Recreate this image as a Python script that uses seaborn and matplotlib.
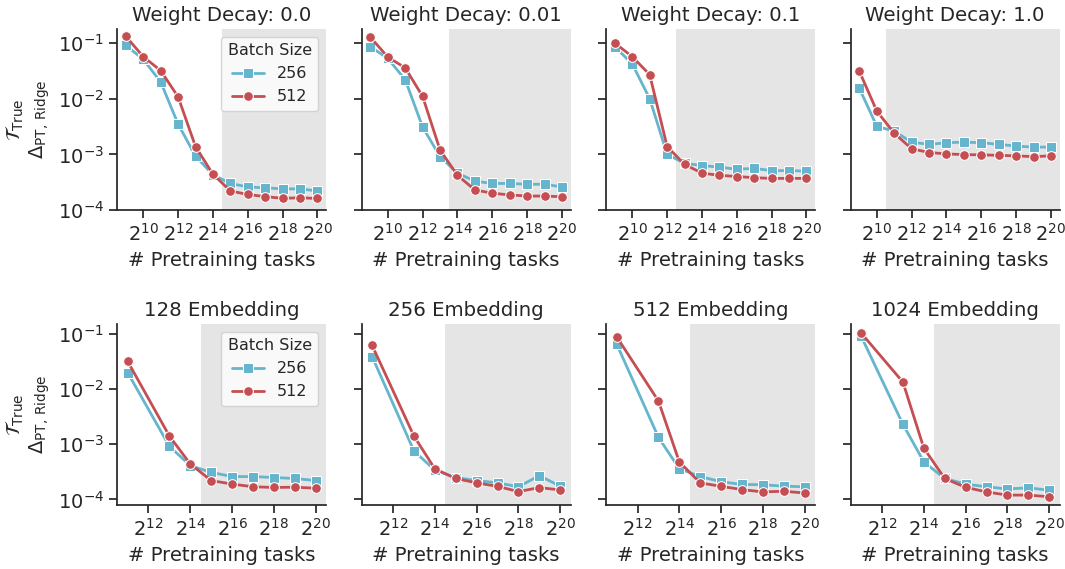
import numpy as np
import pandas as pd
import seaborn as sns
import matplotlib
matplotlib.use("Agg")
import matplotlib.pyplot as plt
from matplotlib.ticker import FixedLocator, NullLocator, LogFormatterSciNotation

# ---------------- data ----------------
tasks_top = [512, 1024, 2048, 4096, 8192, 16384, 32768, 65536, 131072, 262144, 524288, 1048576]
tasks_bot = [2048, 8192, 16384, 32768, 65536, 131072, 262144, 524288, 1048576]
batch_sizes = [256, 512]

wd_titles = ["Weight Decay: 0.0", "Weight Decay: 0.01", "Weight Decay: 0.1", "Weight Decay: 1.0"]
wd_shade_log2 = [14.5, 13.5, 12.5, 10.5]

wd00_256 = [0.091, 0.051, 0.020, 0.0035, 0.00093, 0.00043, 0.00030, 0.00026, 0.00025, 0.00024, 0.00024, 0.00022]
wd00_512 = [0.132, 0.057, 0.032, 0.0108, 0.00138, 0.00044, 0.00022, 0.00019, 0.000174, 0.000162, 0.000166, 0.000161]
wd001_256 = [0.086, 0.053, 0.022, 0.0031, 0.00091, 0.00046, 0.00033, 0.00030, 0.00030, 0.00029, 0.00029, 0.00026]
wd001_512 = [0.128, 0.056, 0.036, 0.011, 0.0012, 0.00042, 0.00023, 0.00020, 0.000187, 0.000178, 0.000178, 0.000173]
wd01_256 = [0.086, 0.042, 0.010, 0.0010, 0.00069, 0.00063, 0.00059, 0.00054, 0.00056, 0.00051, 0.00051, 0.00050]
wd01_512 = [0.100, 0.057, 0.027, 0.00138, 0.00066, 0.00046, 0.00042, 0.00040, 0.00038, 0.00037, 0.00037, 0.00037]
wd10_256 = [0.0153, 0.0032, 0.0026, 0.00166, 0.00151, 0.00162, 0.00166, 0.00162, 0.00151, 0.00141, 0.00135, 0.00135]
wd10_512 = [0.031, 0.0060, 0.0024, 0.00126, 0.00108, 0.00102, 0.00099, 0.00098, 0.00096, 0.00094, 0.00091, 0.00094]

emb_titles = ["128 Embedding", "256 Embedding", "512 Embedding", "1024 Embedding"]
emb_shade_log2 = [14.5, 14.5, 14.5, 14.5]

emb128_256 = [0.020, 0.00092, 0.00041, 0.00031, 0.00026, 0.00026, 0.00025, 0.00024, 0.00022]
emb128_512 = [0.032, 0.00141, 0.00044, 0.00022, 0.00019, 0.00017, 0.000165, 0.000167, 0.000160]
emb256_256 = [0.039, 0.00076, 0.00034, 0.00025, 0.00022, 0.00020, 0.00017, 0.00027, 0.000174]
emb256_512 = [0.062, 0.00141, 0.00036, 0.00024, 0.00020, 0.000173, 0.000139, 0.000164, 0.000149]
emb512_256 = [0.066, 0.00134, 0.00036, 0.00026, 0.00021, 0.000187, 0.000185, 0.000174, 0.00017]
emb512_512 = [0.089, 0.0061, 0.00048, 0.00020, 0.000173, 0.000151, 0.000137, 0.000141, 0.000131]
emb1024_256 = [0.091, 0.0023, 0.00048, 0.00024, 0.00019, 0.00017, 0.000155, 0.000163, 0.000147]
emb1024_512 = [0.104, 0.0134, 0.00085, 0.00024, 0.000166, 0.000137, 0.000120, 0.000120, 0.000112]

top_series = [(wd00_256, wd00_512), (wd001_256, wd001_512), (wd01_256, wd01_512), (wd10_256, wd10_512)]
bot_series = [(emb128_256, emb128_512), (emb256_256, emb256_512), (emb512_256, emb512_512), (emb1024_256, emb1024_512)]

x_ticks_top = [10, 12, 14, 16, 18, 20]
x_ticks_bot = [12, 14, 16, 18, 20]
y_ticks = [1e-4, 1e-3, 1e-2, 1e-1]

# ---------------- style ----------------
sns.set_theme(style="ticks")
plt.rcParams["font.family"] = ["DejaVu Sans"]
plt.rcParams["axes.linewidth"] = 1.25
plt.rcParams["xtick.major.width"] = 1.25
plt.rcParams["ytick.major.width"] = 1.25
plt.rcParams["xtick.major.size"] = 6
plt.rcParams["ytick.major.size"] = 6

palette = {256: "#64B5CD", 512: "#C44E52"}
markers = {256: "s", 512: "o"}

fig, axes = plt.subplots(2, 4, figsize=(10.65, 5.69), dpi=100)
fig.subplots_adjust(left=0.110, right=0.995, top=0.949, bottom=0.1125, wspace=0.17, hspace=0.63)

ylabel = "$\\mathcal{T}_{\\mathrm{True}}$\n$\\Delta_{\\mathrm{PT,\\,Ridge}}$"


def draw(ax, tasks, pair, title, shade, xticks, ylim, xlo, show_legend, first_col):
    df = pd.DataFrame({
        "tasks": tasks * 2,
        "val": list(pair[0]) + list(pair[1]),
        "Batch Size": [batch_sizes[0]] * len(tasks) + [batch_sizes[1]] * len(tasks),
    })
    ax.axvspan(2 ** shade, 2 ** 20.5, color="#e5e5e5", lw=0, zorder=0)
    sns.lineplot(data=df, x="tasks", y="val", hue="Batch Size", style="Batch Size",
                 palette=palette, markers=markers, dashes=False, ax=ax,
                 linewidth=2, markersize=7, legend=show_legend, zorder=3)
    ax.set_xscale("log", base=2)
    ax.set_yscale("log")
    ax.set_xlim(2 ** xlo, 2 ** 20.5)
    ax.set_ylim(*ylim)
    ax.xaxis.set_major_locator(FixedLocator([2.0 ** k for k in xticks]))
    ax.xaxis.set_major_formatter(LogFormatterSciNotation(base=2))
    ax.xaxis.set_minor_locator(NullLocator())
    ax.yaxis.set_major_locator(FixedLocator(y_ticks))
    ax.yaxis.set_minor_locator(NullLocator())
    ax.tick_params(axis="both", labelsize=14, colors="#262626")
    ax.set_title(title, fontsize=14.2, color="#262626")
    ax.set_xlabel("# Pretraining tasks", fontsize=14.1, color="#262626")
    if first_col:
        ax.set_ylabel(ylabel, fontsize=14, color="#262626", linespacing=1.1)
    else:
        ax.set_ylabel("")
        ax.set_yticklabels([])
    if show_legend:
        leg = ax.legend(title="Batch Size", loc="upper right", fontsize=11.5,
                        title_fontsize=11.5, frameon=True)
        leg.get_frame().set_alpha(0.8)
    sns.despine(ax=ax)


for i in range(4):
    draw(axes[0, i], tasks_top, top_series[i], wd_titles[i], wd_shade_log2[i],
         x_ticks_top, (1e-4, 10 ** -0.747), 8.5, i == 0, i == 0)
    draw(axes[1, i], tasks_bot, bot_series[i], emb_titles[i], emb_shade_log2[i],
         x_ticks_bot, (10 ** -4.10, 10 ** -0.82), 10.5, i == 0, i == 0)

fig.savefig("out.png", dpi=100)
